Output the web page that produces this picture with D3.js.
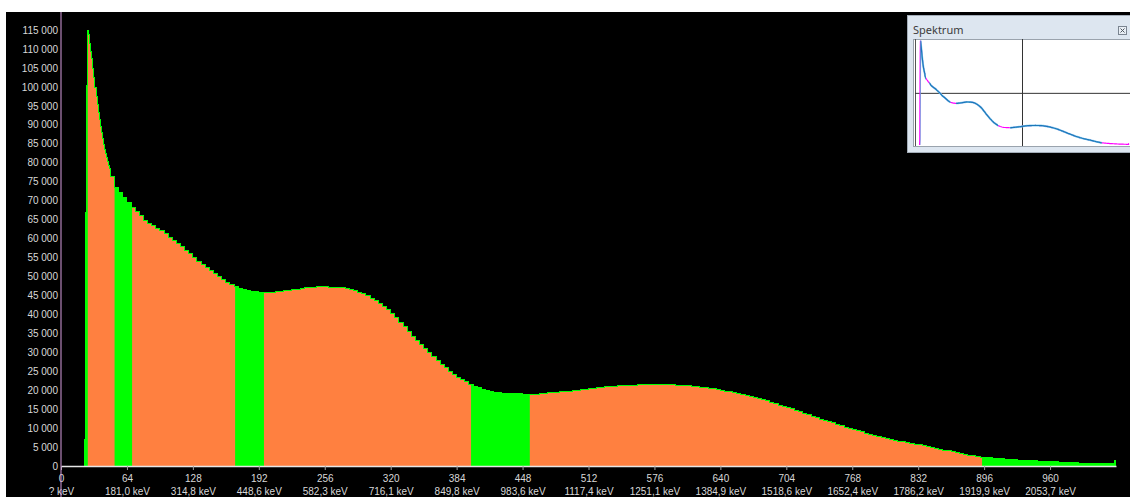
<!DOCTYPE html>
<html>
<head>
<meta charset="utf-8">
<script src="https://cdn.jsdelivr.net/npm/d3@7"></script>
<style>
  html, body { margin: 0; padding: 0; background: #fff; }
  svg { display: block; }
  .axis text { font-family: "Liberation Sans", Arial, sans-serif; font-size: 10px; fill: #d8d8d8; }
  .inset-title { font-family: "Noto Sans", "Liberation Sans", sans-serif; font-size: 11px; fill: #3c3c3c; }
</style>
</head>
<body>
<svg id="chart" width="1130" height="497"></svg>
<script>
// --- Data ---
const channelTicks = [0, 64, 128, 192, 256, 320, 384, 448, 512, 576, 640, 704, 768, 832, 896, 960];
const energyLabels = ["? keV", "181,0 keV", "314,8 keV", "448,6 keV", "582,3 keV", "716,1 keV",
    "849,8 keV", "983,6 keV", "1117,4 keV", "1251,1 keV", "1384,9 keV", "1518,6 keV",
    "1652,4 keV", "1786,2 keV", "1919,9 keV", "2053,7 keV"];
const countTicks = d3.range(0, 115001, 5000);

// regions of interest, [first channel, end channel) - drawn orange
const rois = [[26, 52], [69, 169], [197, 398], [455, 894]];

// channels 22..47, one value per channel (the sharp peak)
const headStart = 22;
const headCounts = [0, 7000, 67000, 100500, 115000, 114000, 111500, 109500, 107500, 105000,
    102500, 100000, 97500, 95500, 93500, 91500, 89600, 88000, 86500, 85000,
    83700, 82600, 81500, 80500, 79500, 78600];

// channels 48..1019, one value per 4 channels
const binStart = 48;
const binWidth = 4;
const binCounts = [
    76500, 73500, 72200, 71000, 69600, 68400, 67300, 66100, 65000, 64200,
    63600, 62900, 62200, 61400, 60500, 59700, 58800, 58000, 57000, 56100,
    55000, 54000, 53300, 52600, 51800, 51000, 50200, 49400, 48600, 47900,
    47400, 47000, 46700, 46400, 46200, 46100, 46000, 45900, 46000, 46000,
    46100, 46200, 46300, 46500, 46600, 46800, 46900, 47100, 47200, 47300,
    47500, 47400, 47400, 47300, 47300, 47200, 47100, 47000, 46700, 46400,
    46000, 45500, 45000, 44400, 43700, 43000, 42200, 41300, 40300, 39200,
    38000, 36800, 35600, 34400, 33300, 32200, 31100, 30000, 28900, 27900,
    26900, 26000, 25100, 24300, 23600, 23000, 22400, 21700, 21200, 20800,
    20400, 20100, 19800, 19600, 19400, 19300, 19300, 19200, 19200, 19200,
    19100, 19000, 19000, 19100, 19200, 19300, 19400, 19500, 19600, 19700,
    19800, 19900, 20000, 20100, 20200, 20300, 20500, 20600, 20800, 20900,
    21000, 21100, 21200, 21300, 21300, 21400, 21400, 21400, 21500, 21500,
    21500, 21500, 21600, 21500, 21500, 21500, 21500, 21400, 21400, 21400,
    21300, 21200, 21100, 20900, 20800, 20600, 20500, 20300, 20100, 19900,
    19700, 19400, 19200, 19000, 18700, 18500, 18200, 17900, 17600, 17300,
    17000, 16600, 16200, 15900, 15500, 15200, 14800, 14400, 14000, 13600,
    13200, 12800, 12500, 12200, 11800, 11500, 11100, 10800, 10400, 10100,
    9700, 9400, 9100, 8800, 8500, 8200, 8000, 7700, 7400, 7200,
    6900, 6700, 6500, 6300, 6100, 5900, 5700, 5500, 5300, 5000,
    4800, 4600, 4300, 4100, 3900, 3600, 3400, 3200, 3000, 2800,
    2600, 2500, 2400, 2300, 2200, 2100, 2000, 1900, 1800, 1800,
    1700, 1600, 1600, 1500, 1500, 1400, 1400, 1300, 1200, 1200,
    1100, 1100, 1000, 1000, 1000, 900, 900, 900, 800, 800,
    800, 700, 700];

// last channels 1020..1023
const tailStart = 1020;
const tailCounts = [700, 700, 700, 1600];

const ORANGE = "#ff8040";
const GREEN = "#00ff00";

// --- Build step points ---
const points = [];
headCounts.forEach((n, i) => points.push({ ch: headStart + i, n }));
binCounts.forEach((n, i) => points.push({ ch: binStart + i * binWidth, n }));
tailCounts.forEach((n, i) => points.push({ ch: tailStart + i, n }));
points.push({ ch: 1024, n: tailCounts[tailCounts.length - 1] });

const svg = d3.select("#chart");

svg.append("rect")
    .attr("x", 6).attr("y", 12)
    .attr("width", 1124).attr("height", 485)
    .attr("fill", "#000");

const x = d3.scaleLinear().domain([0, 1024]).range([61, 1116]);
const y = d3.scaleLinear().domain([0, 115000]).range([466, 30]);

const area = d3.area()
    .curve(d3.curveStepAfter)
    .x(d => x(d.ch))
    .y0(y(0))
    .y1(d => y(d.n));

const topLine = d3.line()
    .curve(d3.curveStepAfter)
    .x(d => x(d.ch))
    .y(d => y(d.n));

// clip for the ROI parts
const defs = svg.append("defs");
const roiClip = defs.append("clipPath").attr("id", "roiClip");
roiClip.selectAll("rect")
    .data(rois)
    .enter().append("rect")
    .attr("x", d => x(d[0]))
    .attr("width", d => x(d[1]) - x(d[0]))
    .attr("y", 0)
    .attr("height", y(0));

svg.append("path")
    .datum(points)
    .attr("d", area)
    .attr("fill", GREEN)
    .attr("shape-rendering", "crispEdges");

svg.append("path")
    .datum(points)
    .attr("d", area)
    .attr("fill", ORANGE)
    .attr("shape-rendering", "crispEdges")
    .attr("clip-path", "url(#roiClip)");

svg.append("path")
    .datum(points)
    .attr("d", topLine)
    .attr("transform", "translate(0,0.5)")
    .attr("fill", "none")
    .attr("stroke", GREEN)
    .attr("stroke-width", 1)
    .attr("shape-rendering", "crispEdges");

// --- Axes ---
const fmt = d3.formatLocale({ decimal: ",", thousands: " ", grouping: [3], currency: ["", ""] }).format(",d");

const yAxis = svg.append("g")
    .attr("class", "axis")
    .attr("transform", `translate(${x(0)},0)`)
    .call(d3.axisLeft(y).tickValues(countTicks).tickSize(0).tickPadding(3).tickFormat(fmt));
yAxis.select(".domain").remove();

const xAxis = svg.append("g")
    .attr("class", "axis")
    .attr("transform", `translate(0,${y(0)})`)
    .call(d3.axisBottom(x).tickValues(channelTicks).tickSize(4).tickSizeOuter(0));
xAxis.select(".domain").attr("stroke", "#e6e6e6").attr("stroke-width", 1.5);
xAxis.selectAll(".tick line").attr("stroke", "#a0a0a0");
xAxis.selectAll(".tick text").attr("y", 9).attr("dy", "0.71em");
xAxis.selectAll(".tick")
    .append("text")
    .attr("y", 29)
    .attr("text-anchor", "middle")
    .text((d, i) => energyLabels[i]);

// pink vertical marker along the y axis
svg.append("line")
    .attr("x1", x(0)).attr("x2", x(0))
    .attr("y1", 12).attr("y2", 497)
    .attr("stroke", "#d89ee0")
    .attr("stroke-width", 1);

// --- Overview inset ---
const inset = svg.append("g");
inset.append("rect")
    .attr("x", 907.5).attr("y", 15.5)
    .attr("width", 230).attr("height", 137)
    .attr("fill", "#dde6f0")
    .attr("stroke", "#a3adb8");
inset.append("text")
    .attr("class", "inset-title")
    .attr("x", 913).attr("y", 34)
    .text("Spektrum");

// close button
inset.append("rect")
    .attr("x", 1118.5).attr("y", 26.5)
    .attr("width", 8).attr("height", 8)
    .attr("fill", "#e8eef5").attr("stroke", "#7a8490");
inset.append("path")
    .attr("d", "M1120.5,28.5L1124.5,32.5M1124.5,28.5L1120.5,32.5")
    .attr("stroke", "#50585f").attr("stroke-width", 1);

const plotBox = { x0: 913, x1: 1130, y0: 39, y1: 146 };
inset.append("rect")
    .attr("x", plotBox.x0 + 0.5).attr("y", plotBox.y0 + 0.5)
    .attr("width", plotBox.x1 - plotBox.x0).attr("height", plotBox.y1 - plotBox.y0)
    .attr("fill", "#fff")
    .attr("stroke", "#9aa3ad");

const xi = d3.scaleLinear().domain([0, 1024]).range([915, 1129]);
const yi = d3.scaleLinear().domain([0, 115000]).range([145, 40.7]);

inset.append("line")
    .attr("x1", 915.5).attr("x2", 915.5)
    .attr("y1", plotBox.y0).attr("y2", plotBox.y1)
    .attr("stroke", "#555");
inset.append("line")
    .attr("x1", xi(512) + 0.5).attr("x2", xi(512) + 0.5)
    .attr("y1", plotBox.y0).attr("y2", plotBox.y1)
    .attr("stroke", "#333");
inset.append("line")
    .attr("x1", 915).attr("x2", plotBox.x1)
    .attr("y1", yi(57500) + 0.5).attr("y2", yi(57500) + 0.5)
    .attr("stroke", "#333");

const insetLine = d3.line()
    .x(d => xi(d.ch))
    .y(d => yi(d.n));

const insetClip = defs.append("clipPath").attr("id", "insetRoiClip");
insetClip.selectAll("rect")
    .data(rois)
    .enter().append("rect")
    .attr("x", d => xi(d[0]))
    .attr("width", d => xi(d[1]) - xi(d[0]))
    .attr("y", 0)
    .attr("height", 200);

inset.append("path")
    .datum(points)
    .attr("d", insetLine)
    .attr("fill", "none")
    .attr("stroke", "#ff00ff")
    .attr("stroke-width", 1.2);

inset.append("path")
    .datum(points)
    .attr("d", insetLine)
    .attr("fill", "none")
    .attr("stroke", "#8ccdf0")
    .attr("stroke-width", 2)
    .attr("clip-path", "url(#insetRoiClip)");

inset.append("path")
    .datum(points)
    .attr("d", insetLine)
    .attr("fill", "none")
    .attr("stroke", "#1a78b8")
    .attr("stroke-width", 1.2)
    .attr("clip-path", "url(#insetRoiClip)");
</script>
</body>
</html>
